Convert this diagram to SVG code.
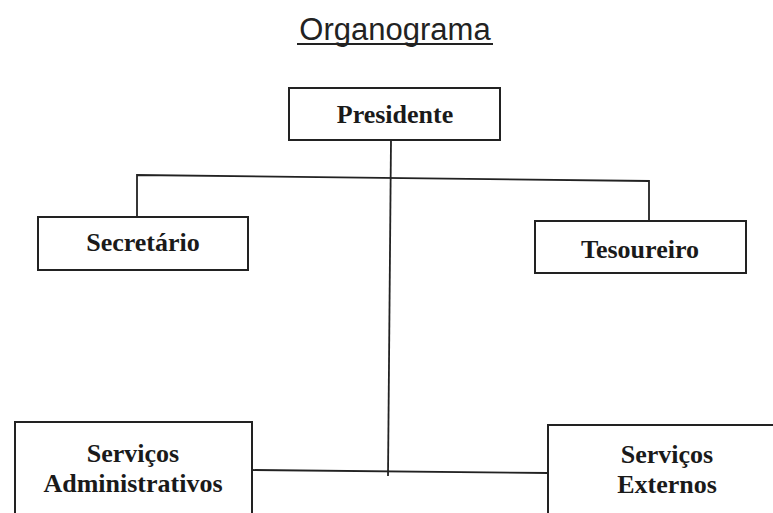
<svg xmlns="http://www.w3.org/2000/svg" width="773" height="513" viewBox="0 0 773 513">
<style>
.box{fill:#fff;stroke:#222;stroke-width:2}
.lbl{font-family:"Liberation Serif","Times New Roman",serif;font-weight:bold;font-size:26px;fill:#1a1a1a;text-anchor:middle}
.con{stroke:#222;stroke-width:1.8;fill:none}
.title{font-family:"Liberation Sans",Arial,sans-serif;font-size:31px;fill:#222;text-anchor:middle}
</style>
<rect width="773" height="513" fill="#fff"/>
<g id="title">
<text class="title" x="395" y="40">Organograma</text>
<line x1="297" y1="44" x2="493" y2="44" stroke="#222" stroke-width="2"/>
</g>
<g id="connectors">
<polyline class="con" points="137,216 137,175 649,181 649,220"/>
<line class="con" x1="391" y1="140" x2="388" y2="476"/>
<line class="con" x1="252" y1="470" x2="548" y2="473"/>
</g>
<g id="presidente">
<rect class="box" x="289" y="88" width="211" height="52"/>
<text class="lbl" x="395" y="123">Presidente</text>
</g>
<g id="secretario">
<rect class="box" x="38" y="217" width="210" height="53"/>
<text class="lbl" x="143" y="251">Secretário</text>
</g>
<g id="tesoureiro">
<rect class="box" x="535" y="221" width="211" height="52"/>
<text class="lbl" x="640" y="258">Tesoureiro</text>
</g>
<g id="servicos-administrativos">
<rect class="box" x="15" y="422" width="237" height="110"/>
<text class="lbl" x="133" y="462">Serviços</text>
<text class="lbl" x="133" y="492">Administrativos</text>
</g>
<g id="servicos-externos">
<rect class="box" x="548" y="425" width="240" height="110"/>
<text class="lbl" x="667" y="463">Serviços</text>
<text class="lbl" x="667" y="493">Externos</text>
</g>
</svg>
